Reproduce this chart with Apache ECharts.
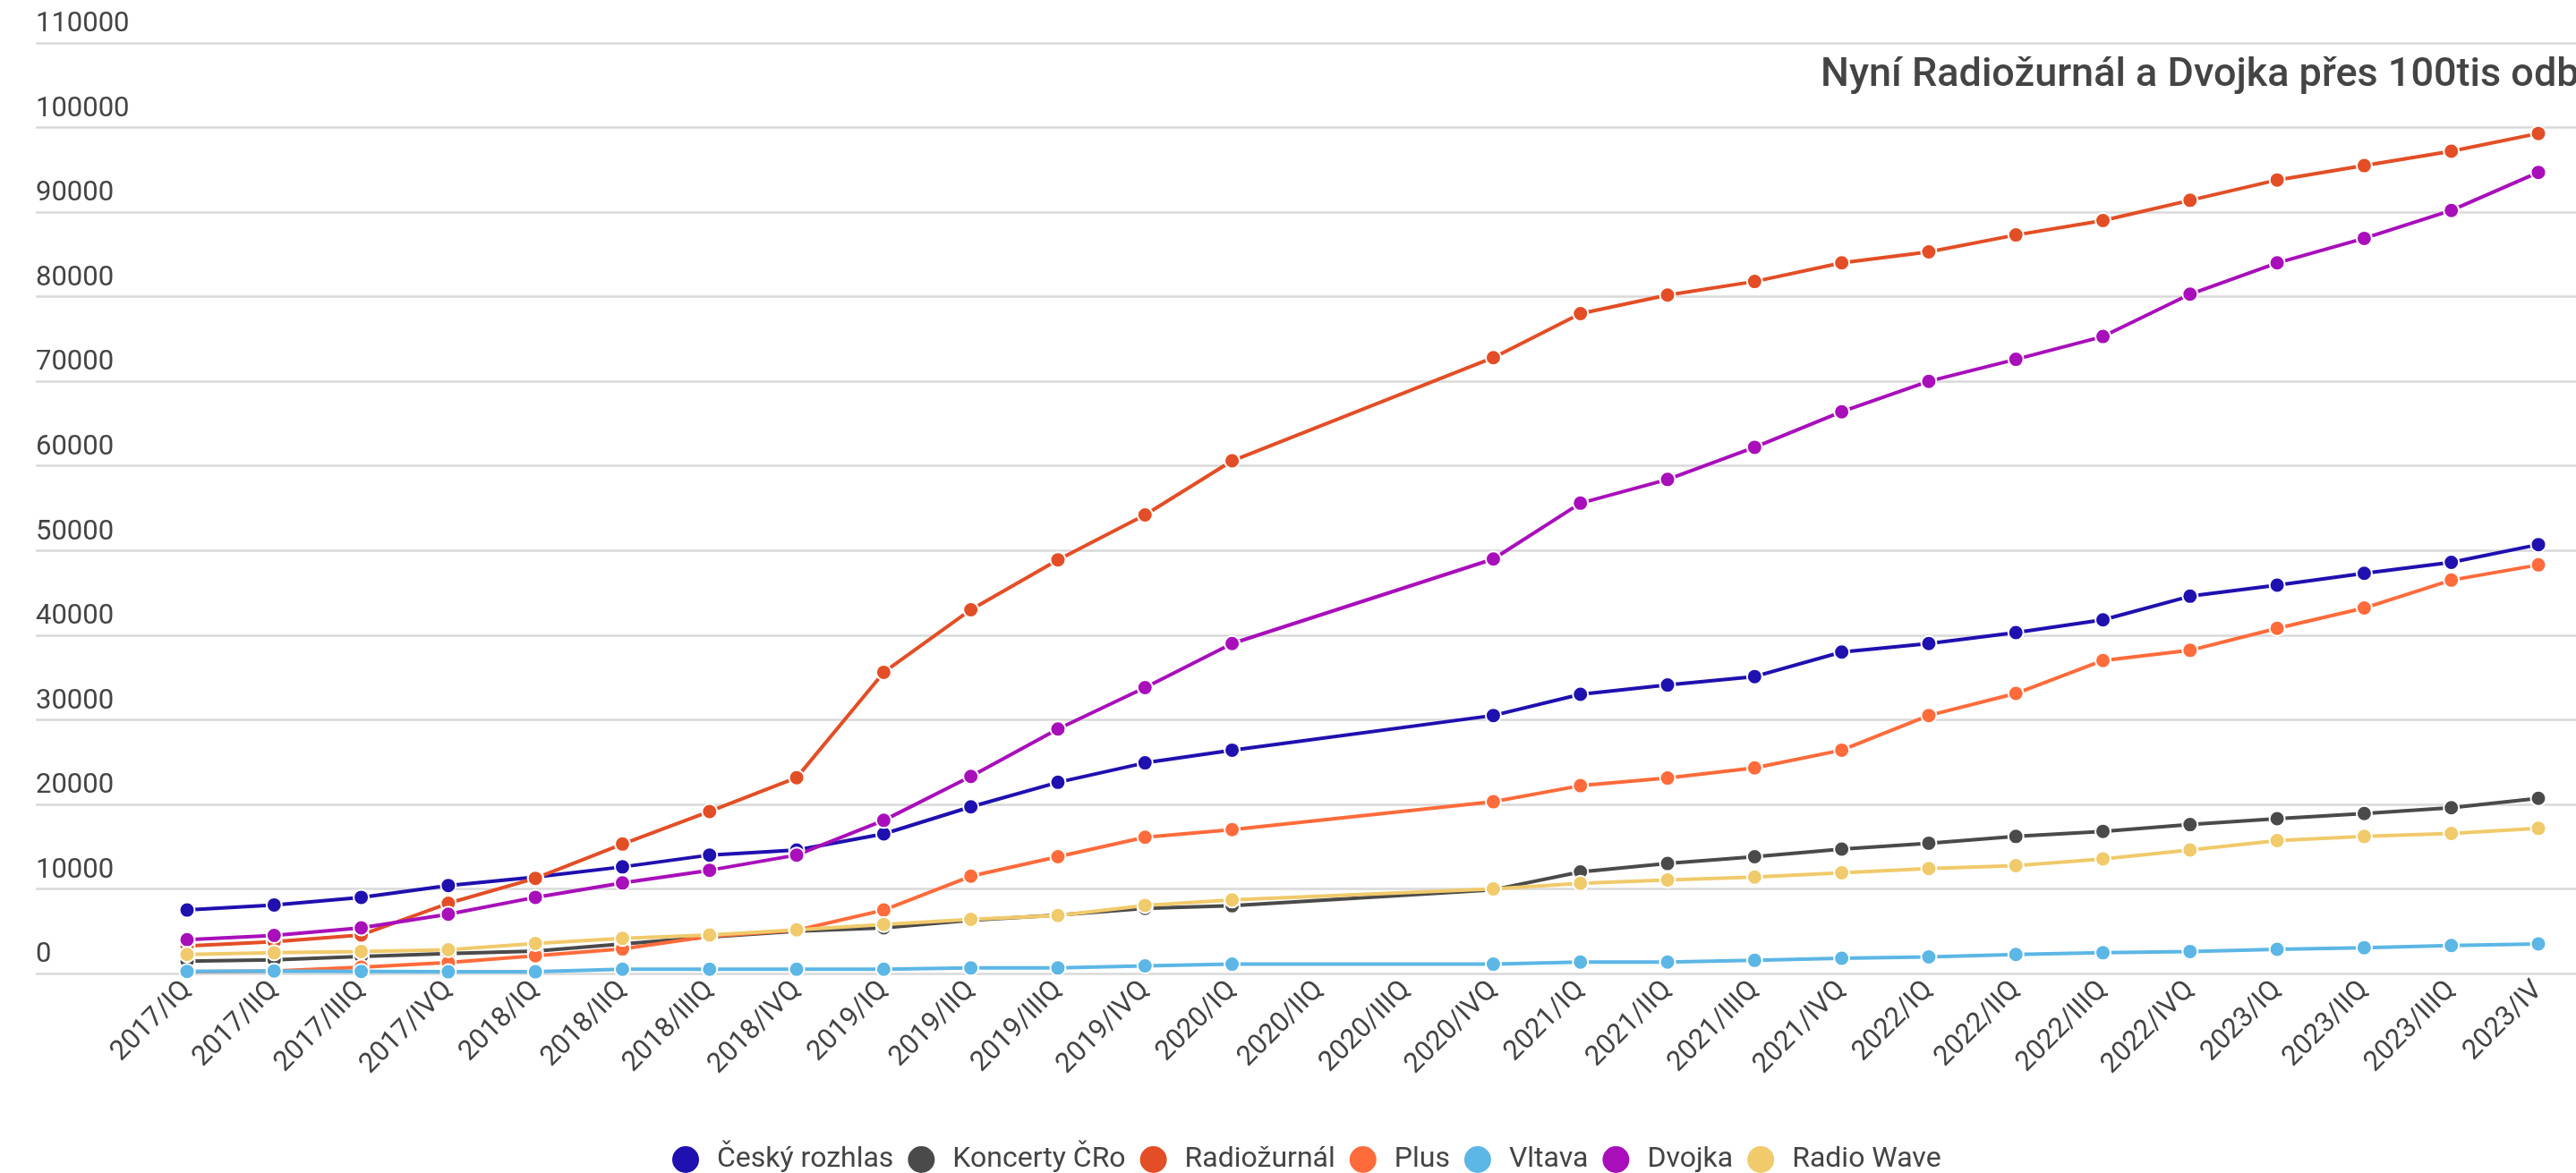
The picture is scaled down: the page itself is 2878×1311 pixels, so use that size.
<!DOCTYPE html>
<html>
<head>
<meta charset="utf-8">
<script src="https://cdn.jsdelivr.net/npm/echarts@6/dist/echarts.min.js"></script>
<style>
html,body{margin:0;padding:0;background:#fff;}
#chart{width:2878px;height:1311px;}
</style>
</head>
<body>
<div id="chart"></div>
<script>
const categories = ['2017/IQ','2017/IIQ','2017/IIIQ','2017/IVQ','2018/IQ','2018/IIQ','2018/IIIQ','2018/IVQ','2019/IQ','2019/IIQ','2019/IIIQ','2019/IVQ','2020/IQ','2020/IIQ','2020/IIIQ','2020/IVQ','2021/IQ','2021/IIQ','2021/IIIQ','2021/IVQ','2022/IQ','2022/IIQ','2022/IIIQ','2022/IVQ','2023/IQ','2023/IIQ','2023/IIIQ','2023/IV'];

const ceskyRozhlas = [7500, 8100, 9000, 10400, 11400, 12600, 14000, 14600, 16500, 19700, 22600, 24900, 26400, null, null, 30500, 33000, 34100, 35100, 38000, 39000, 40300, 41800, 44600, 45900, 47300, 48600, 50700];
const koncerty = [1450, 1620, 2000, 2350, 2650, 3500, 4300, 5000, 5400, 6300, 6900, 7700, 8000, null, null, 9900, 12000, 13000, 13800, 14700, 15400, 16200, 16800, 17600, 18300, 18900, 19600, 20700];
const radiozurnal = [3250, 3750, 4550, 8300, 11250, 15300, 19150, 23150, 35600, 43000, 48900, 54200, 60600, null, null, 72800, 78000, 80200, 81800, 84000, 85300, 87300, 89000, 91400, 93800, 95500, 97200, 99300];
const plus = [200, 300, 750, 1300, 2100, 2900, 4400, 5100, 7500, 11500, 13800, 16100, 17000, null, null, 20300, 22200, 23100, 24300, 26400, 30500, 33100, 37000, 38200, 40800, 43200, 46500, 48300];
const vltava = [250, 300, 250, 200, 200, 500, 500, 500, 500, 650, 650, 900, 1100, null, null, 1100, 1350, 1350, 1550, 1800, 1950, 2250, 2450, 2600, 2850, 3050, 3300, 3500];
const dvojka = [4000, 4500, 5400, 7000, 9000, 10700, 12200, 14000, 18100, 23300, 28900, 33800, 39000, null, null, 49000, 55600, 58400, 62200, 66400, 70000, 72600, 75300, 80300, 84000, 86900, 90200, 94700];
const radioWave = [2250, 2450, 2600, 2800, 3550, 4150, 4550, 5150, 5800, 6400, 6850, 8050, 8700, null, null, 10000, 10650, 11050, 11400, 11900, 12400, 12750, 13550, 14600, 15700, 16200, 16550, 17150];

const seriesNames = ['Český rozhlas', 'Koncerty ČRo', 'Radiožurnál', 'Plus', 'Vltava', 'Dvojka', 'Radio Wave'];
const seriesColors = ['#1f10b0', '#4a4a4a', '#e34e26', '#ff6b3b', '#5cb6e6', '#a80fba', '#f0ca6b'];
const seriesData = [ceskyRozhlas, koncerty, radiozurnal, plus, vltava, dvojka, radioWave];

const titleText = 'Nyní Radiožurnál a Dvojka přes 100tis odb';
const yMin = 0, yMax = 110000, yStep = 10000;

const FONT = 'Roboto';
const chart = echarts.init(document.getElementById('chart'), null, {renderer: 'canvas'});

chart.setOption({
  animation: false,
  backgroundColor: '#ffffff',
  textStyle: {fontFamily: FONT},
  title: {
    text: titleText,
    left: 2034,
    top: 62,
    padding: 0,
    textStyle: {fontFamily: FONT, fontSize: 45, fontWeight: 500, color: '#444444'}
  },
  legend: {
    data: seriesNames,
    icon: 'circle',
    itemWidth: 32,
    itemHeight: 32,
    itemGap: 14,
    left: 749,
    top: 1279,
    padding: 0,
    textStyle: {fontFamily: FONT, fontSize: 32, color: '#444444', padding: [0, 0, 0, 14]}
  },
  grid: [
    {left: 40, right: 0, top: 48, bottom: 223},
    {left: 209, right: 42, top: 48, bottom: 223}
  ],
  xAxis: [
    {type: 'value', gridIndex: 0, show: false, min: 0, max: 1},
    {
      type: 'category', gridIndex: 1, data: categories, boundaryGap: false,
      axisLine: {show: false}, axisTick: {show: false}, splitLine: {show: false},
      axisLabel: {interval: 0, rotate: 45, margin: 14, fontFamily: FONT, fontSize: 31, color: '#444444'}
    }
  ],
  yAxis: [
    {
      type: 'value', gridIndex: 0, min: yMin, max: yMax, interval: yStep,
      axisLine: {show: false}, axisTick: {show: false},
      splitLine: {show: true, lineStyle: {color: '#d9d9d9', width: 2.5}},
      axisLabel: {
        inside: true, margin: 0, verticalAlign: 'bottom', padding: [0, 0, 5, 0],
        fontFamily: FONT, fontSize: 31, color: '#444444',
        formatter: v => String(v)
      }
    },
    {type: 'value', gridIndex: 1, min: yMin, max: yMax, interval: yStep, show: false, splitLine: {show: false}}
  ],
  series: seriesNames.map((name, i) => ({
    name: name,
    type: 'line',
    xAxisIndex: 1,
    yAxisIndex: 1,
    data: seriesData[i],
    connectNulls: true,
    symbol: 'circle',
    symbolSize: 17,
    showSymbol: true,
    color: seriesColors[i],
    itemStyle: {color: seriesColors[i], borderColor: '#ffffff', borderWidth: 2},
    lineStyle: {color: seriesColors[i], width: 4},
    emphasis: {disabled: true}
  }))
});
</script>
</body>
</html>
